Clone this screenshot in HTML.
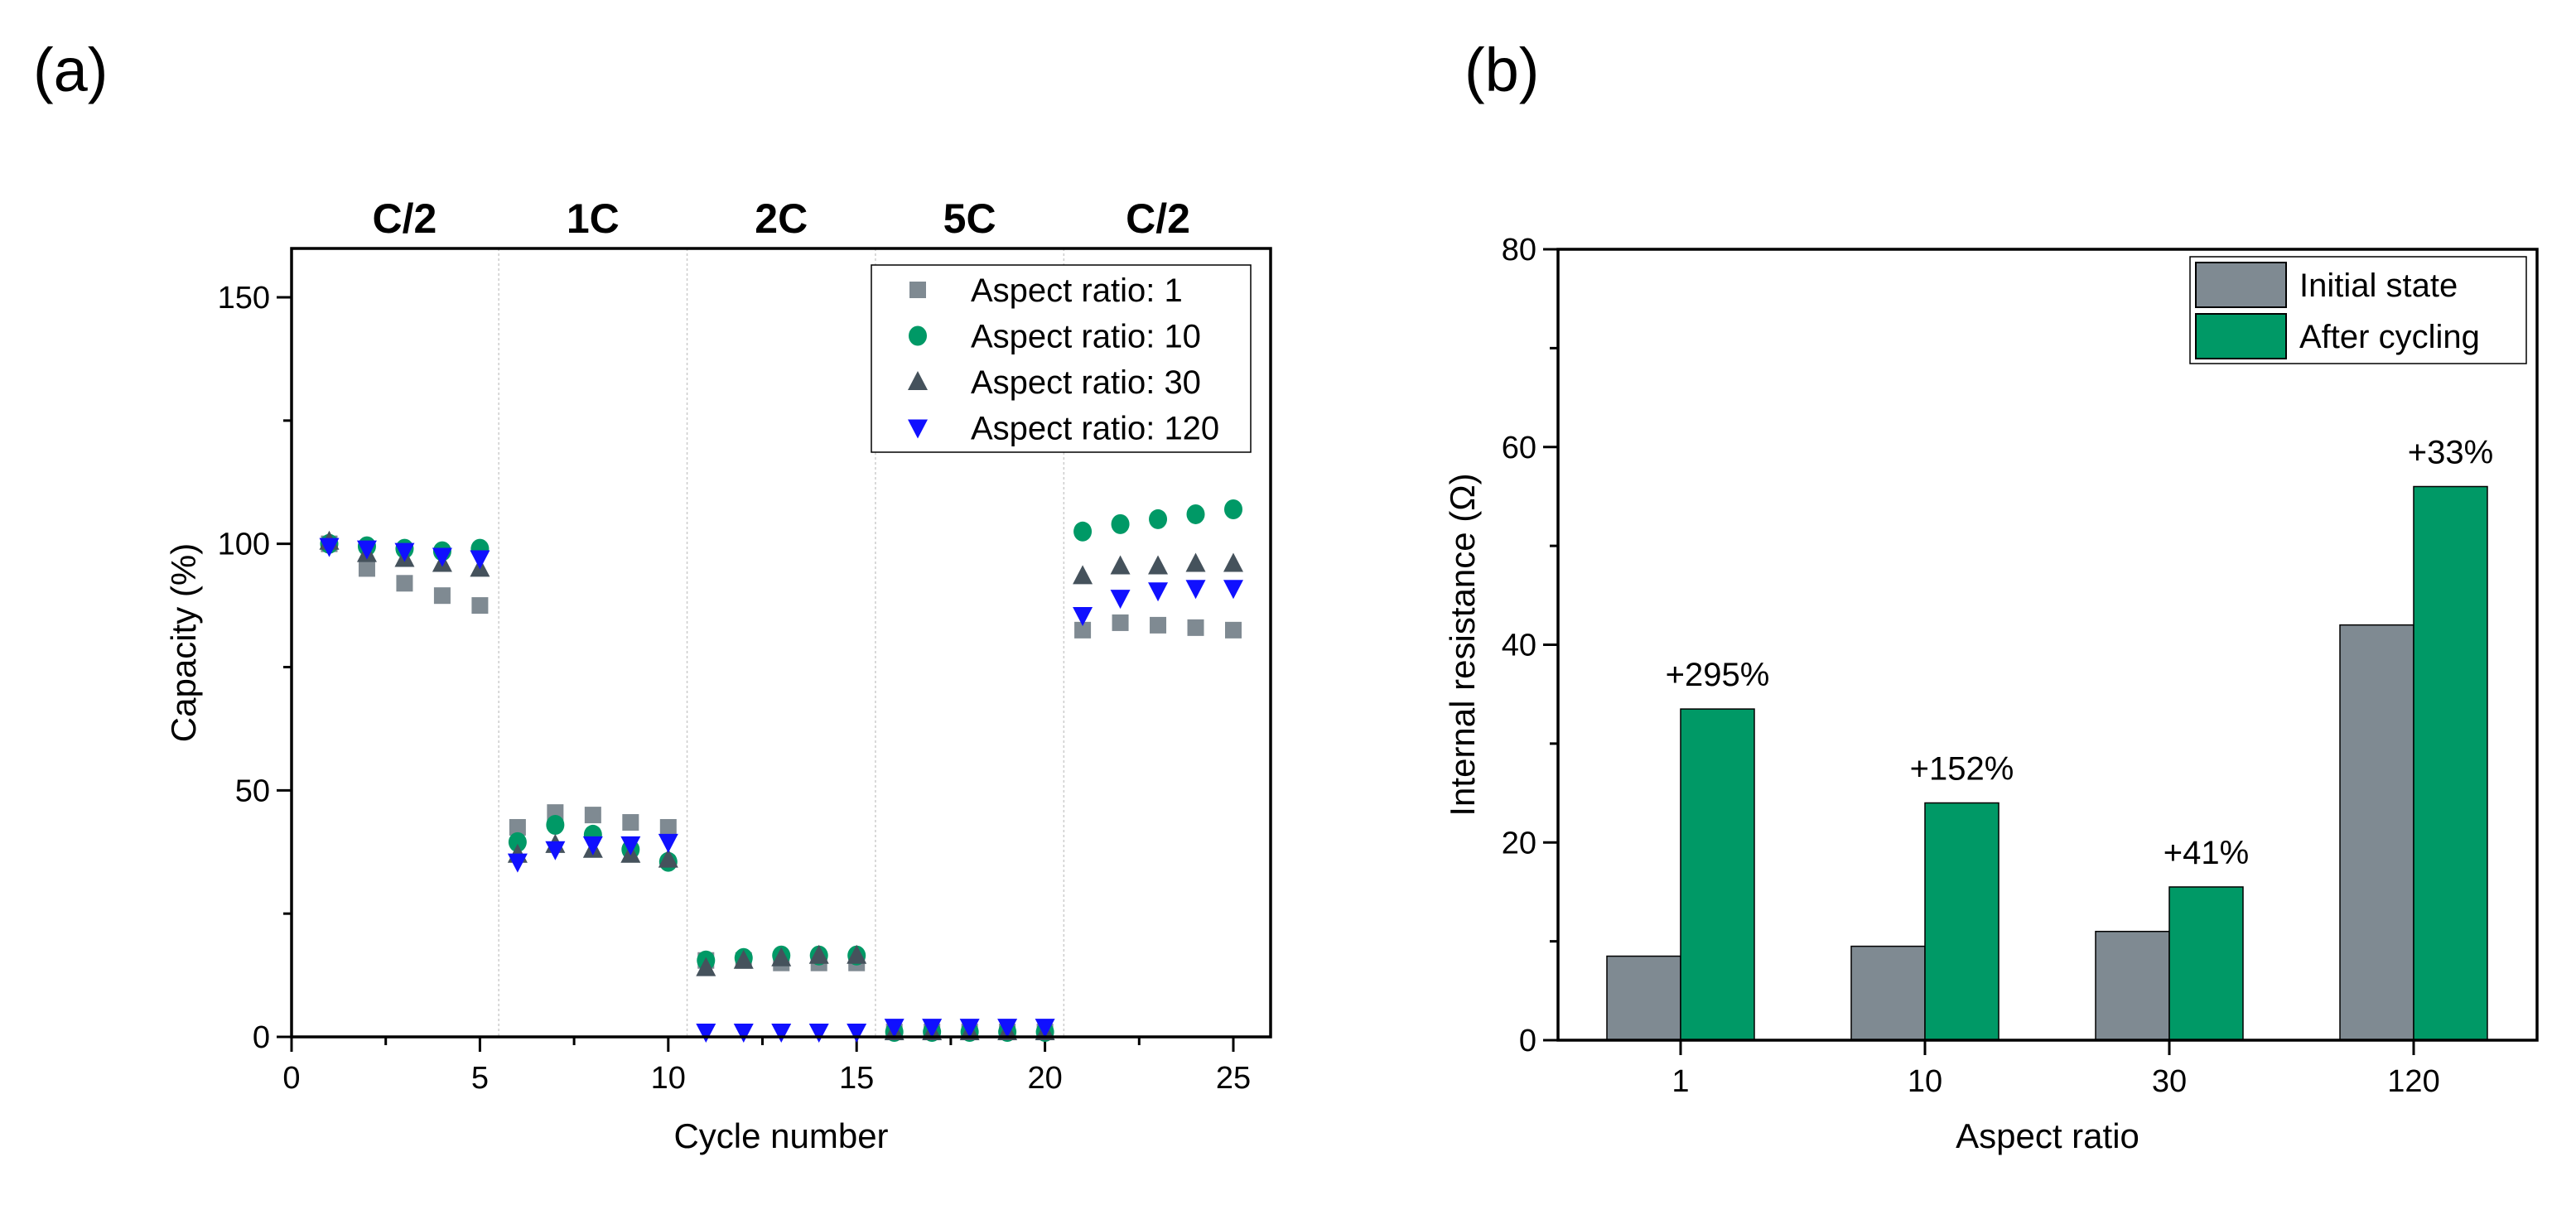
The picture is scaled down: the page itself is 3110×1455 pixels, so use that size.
<!DOCTYPE html>
<html><head><meta charset="utf-8"><style>
html,body{margin:0;padding:0;background:#fff;}
svg{display:block;font-family:"Liberation Sans",Arial,sans-serif;}
</style></head>
<body>
<svg id="fig" width="3110" height="1455" viewBox="0 0 3110 1455" xmlns="http://www.w3.org/2000/svg">
<text x="40" y="110" font-size="74">(a)</text>
<text x="1768" y="110" font-size="74">(b)</text>
<g id="chartA"></g>
<g id="chartB"></g>
</svg>
<script>
const cycles = [1,2,3,4,5,6,7,8,9,10,11,12,13,14,15,16,17,18,19,20,21,22,23,24,25];
const ar1 = [100,95,92,89.5,87.5, 42.5,45.5,45,43.5,42.5, 15.5,15.5,15,15,15, 1,1,1,1,1, 82.5,84,83.5,83,82.5];
const ar10 = [100,99.5,99,98.5,99, 39.5,43,41,38,35.5, 15.5,16,16.5,16.5,16.5, 1,1,1,1,1, 102.5,104,105,106,107];
const ar30 = [100.5,98,97,96,95, 37,39,38,37,36, 14,15.5,16,16.5,16.5, 1,1,1,1,1, 93.5,95.5,95.5,96,96];
const ar120 = [99.5,99,98.5,97.5,97, 35.5,38,39,39,39.5, 1,1,1,1,1, 2,2,2,2,2, 85.5,89,90.5,91,91];
const xTicksA = [0,5,10,15,20,25];
const yTicksA = [0,50,100,150];
const rateLabels = ["C/2","1C","2C","5C","C/2"];
const rateCenters = [3,8,13,18,23];
const rateDividers = [5.5,10.5,15.5,20.5];
const legendA = ["Aspect ratio: 1","Aspect ratio: 10","Aspect ratio: 30","Aspect ratio: 120"];

const ratios = ["1","10","30","120"];
const initialR = [8.5,9.5,11,42];
const afterR = [33.5,24,15.5,56];
const pctLabels = ["+295%","+152%","+41%","+33%"];
const yTicksB = [0,20,40,60,80];
const legendB = ["Initial state","After cycling"];

const NS="http://www.w3.org/2000/svg";
function mk(parent,tag,attrs,text){const e=document.createElementNS(NS,tag);for(const k in attrs)e.setAttribute(k,attrs[k]);if(text!==undefined)e.textContent=text;parent.appendChild(e);return e;}

// ---- Chart A ----
const A=document.getElementById('chartA');
const aL=352,aR=1534,aT=300,aB=1252;
const xA=v=>aL+(v-0)*(1489-352)/25;
const yA=v=>aB-v*(1252-359)/150;
const colors=["#7f8a92","#009966","#45525c","#1010ff"];
rateDividers.forEach(d=>{const l=mk(A,'line',{x1:xA(d),x2:xA(d),y1:aT,y2:aB,stroke:'#ccc','stroke-width':1.5,'stroke-dasharray':'3,3'});
});
rateLabels.forEach((t,i)=>{const e=mk(A,'text',{x:xA(rateCenters[i]),y:281,'font-size':50,'font-weight':'bold','text-anchor':'middle'},t);
});
xTicksA.forEach(v=>{mk(A,'line',{x1:xA(v),x2:xA(v),y1:aB,y2:aB+18,stroke:'#000','stroke-width':3});
const e=mk(A,'text',{x:xA(v),y:1314,'font-size':38,'text-anchor':'middle'},v);});
for(let v=2.5;v<26;v+=5)mk(A,'line',{x1:xA(v),x2:xA(v),y1:aB,y2:aB+10,stroke:'#000','stroke-width':3});
yTicksA.forEach(v=>{mk(A,'line',{x1:aL,x2:aL-18,y1:yA(v),y2:yA(v),stroke:'#000','stroke-width':3});
const e=mk(A,'text',{x:aL-26,y:yA(v)+13,'font-size':38,'text-anchor':'end'},v);});
for(let v=25;v<160;v+=50)mk(A,'line',{x1:aL,x2:aL-10,y1:yA(v),y2:yA(v),stroke:'#000','stroke-width':3});
function marker(g,type,x,y,c){
 if(type==0)return mk(g,'rect',{x:x-10,y:y-10,width:20,height:20,fill:c});
 if(type==1)return mk(g,'ellipse',{cx:x,cy:y,rx:11,ry:12,fill:c});
 if(type==2)return mk(g,'polygon',{points:`${x},${y-13} ${x-12},${y+10} ${x+12},${y+10}`,fill:c});
 return mk(g,'polygon',{points:`${x},${y+13} ${x-12},${y-10} ${x+12},${y-10}`,fill:c});
}
[ar1,ar10,ar30,ar120].forEach((s,si)=>{
 s.forEach((v,i)=>{const m=marker(A,si,xA(cycles[i]),yA(v),colors[si]);
 
 });
});
mk(A,'rect',{x:aL,y:aT,width:aR-aL,height:aB-aT,fill:'none',stroke:'#000','stroke-width':3.5});
const lgA=mk(A,'rect',{x:1052,y:320,width:458,height:226,fill:'#fff',stroke:'#000','stroke-width':1.5});

legendA.forEach((t,i)=>{const y=350+i*55.5;marker(A,i,1108,y,colors[i]);
const e=mk(A,'text',{x:1172,y:y+14,'font-size':40},t);});
let e=mk(A,'text',{x:(aL+aR)/2,y:1386,'font-size':42,'text-anchor':'middle'},'Cycle number');
e=mk(A,'text',{x:0,y:0,'font-size':42,'text-anchor':'middle',transform:`translate(236,${(aT+aB)/2}) rotate(-90)`},'Capacity (%)');

// ---- Chart B ----
const B=document.getElementById('chartB');
const bL=1881,bR=3063,bT=301,bB=1256;
const yB=v=>bB-v*(bB-bT)/80;
const cx=i=>2029+i*295;
const bw=89;
yTicksB.forEach(v=>{mk(B,'line',{x1:bL,x2:bL-18,y1:yB(v),y2:yB(v),stroke:'#000','stroke-width':3});
const e=mk(B,'text',{x:bL-26,y:yB(v)+13,'font-size':38,'text-anchor':'end'},v);});
for(let v=10;v<80;v+=20)mk(B,'line',{x1:bL,x2:bL-10,y1:yB(v),y2:yB(v),stroke:'#000','stroke-width':3});
ratios.forEach((r,i)=>{
 mk(B,'line',{x1:cx(i),x2:cx(i),y1:bB,y2:bB+18,stroke:'#000','stroke-width':3});
 let e=mk(B,'text',{x:cx(i),y:1318,'font-size':38,'text-anchor':'middle'},r);
 e=mk(B,'rect',{x:cx(i)-bw,y:yB(initialR[i]),width:bw,height:bB-yB(initialR[i]),fill:'#7f8a92',stroke:'#000','stroke-width':1.5});
 
 e=mk(B,'rect',{x:cx(i),y:yB(afterR[i]),width:bw,height:bB-yB(afterR[i]),fill:'#009966',stroke:'#000','stroke-width':1.5});
 
 e=mk(B,'text',{x:cx(i)+bw/2,y:yB(afterR[i])-28,'font-size':40,'text-anchor':'middle'},pctLabels[i]);
 
});
mk(B,'rect',{x:bL,y:bT,width:bR-bL,height:bB-bT,fill:'none',stroke:'#000','stroke-width':3.5});
e=mk(B,'rect',{x:2644,y:310,width:406,height:129,fill:'#fff',stroke:'#000','stroke-width':1.5});
const lgc=['#7f8a92','#009966'];
legendB.forEach((t,i)=>{const y=317+i*62;mk(B,'rect',{x:2651,y:y,width:109,height:54,fill:lgc[i],stroke:'#000','stroke-width':2});
const e=mk(B,'text',{x:2776,y:y+41,'font-size':40},t);});
e=mk(B,'text',{x:(bL+bR)/2,y:1386,'font-size':42,'text-anchor':'middle'},'Aspect ratio');
e=mk(B,'text',{x:0,y:0,'font-size':42,'text-anchor':'middle',transform:`translate(1780,${(bT+bB)/2}) rotate(-90)`},'Internal resistance (Ω)');
</script>
</body></html>
